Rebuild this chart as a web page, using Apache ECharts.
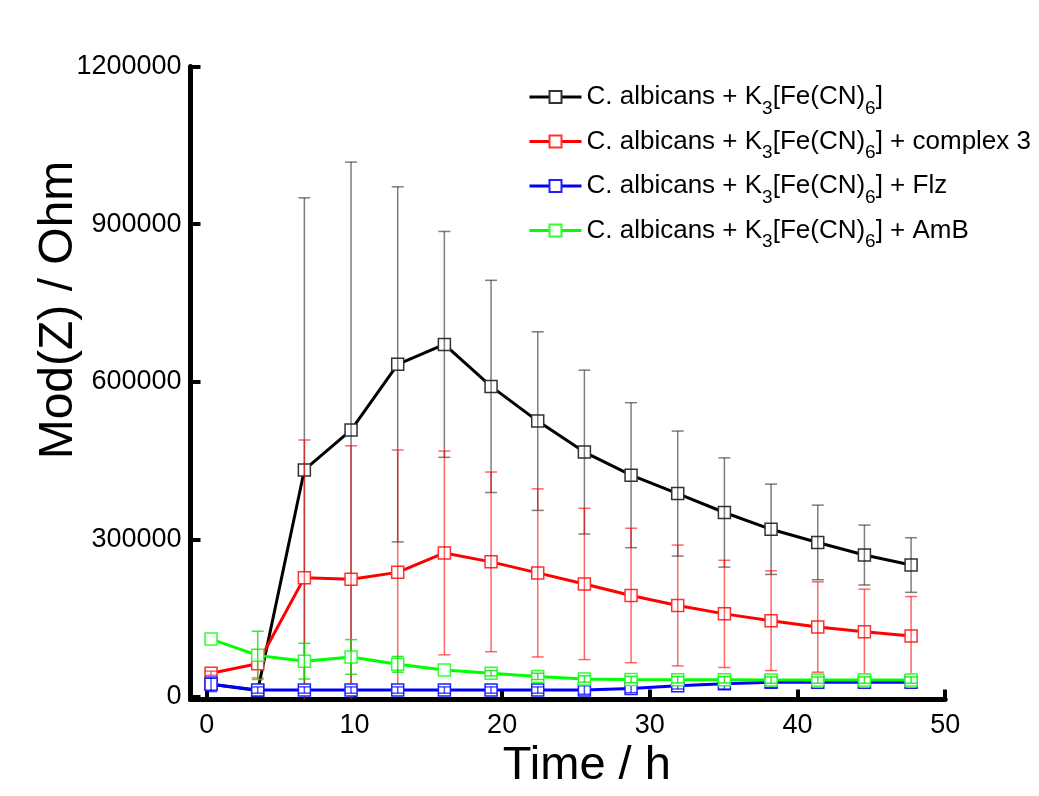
<!DOCTYPE html>
<html>
<head>
<meta charset="utf-8">
<script src="https://cdn.jsdelivr.net/npm/echarts@6/dist/echarts.min.js"></script>
<style>
html,body{margin:0;padding:0;background:#fff;}
#c{width:1039px;height:796px;}
</style>
</head>
<body>
<div id="c"></div>
<script>
// ---- data ----
var time = [0.29, 3.45, 6.61, 9.77, 12.93, 16.09, 19.25, 22.41, 25.57, 28.73, 31.89, 35.05, 38.21, 41.37, 44.53, 47.69];

var blackVals = [24000, 12000, 432000, 508000, 633000, 671000, 591000, 525000, 466000, 422000, 387000, 351000, 319000, 294000, 270000, 251000];
var blackErr  = [0, 0, 518000, 510000, 338000, 215000, 202000, 170000, 156000, 138000, 119000, 104000, 86000, 71000, 57000, 52000];

var redVals = [45000, 63000, 227000, 224000, 237000, 274000, 257000, 236000, 215000, 193000, 174000, 158000, 145000, 133000, 124000, 116000];
var redErr  = [4000, 27000, 262000, 254000, 233000, 194000, 171000, 160000, 144000, 128000, 115000, 102000, 95000, 86000, 81000, 75000];

var blueVals = [24000, 13000, 13000, 13000, 13000, 13000, 13000, 13000, 13000, 16000, 21000, 25000, 28000, 28000, 28000, 28000];
var blueErr  = [14000, 6000, 6000, 6000, 6000, 6000, 6000, 6000, 8000, 8000, 6000, 10000, 10000, 6000, 5000, 5000];

var greenVals = [110000, 79000, 68000, 76000, 62000, 51000, 45000, 39000, 34000, 33000, 32500, 32500, 32000, 32000, 32000, 32000];
var greenErr  = [0, 46000, 34000, 33000, 15000, 0, 5000, 6000, 6000, 6000, 6000, 6000, 6000, 6000, 6000, 6000];

var seriesNames = [
  'C. albicans + K3[Fe(CN)6]',
  'C. albicans + K3[Fe(CN)6] + complex 3',
  'C. albicans + K3[Fe(CN)6] + Flz',
  'C. albicans + K3[Fe(CN)6] + AmB'
];
var legendSuffix = ['', ' + complex 3', ' + Flz', ' + AmB'];
var xTicks = [0, 10, 20, 30, 40, 50];
var yTicks = [0, 300000, 600000, 900000, 1200000];

var FONT = 'Liberation Sans, Arial, Helvetica, sans-serif';

function pairs(vals) { return time.map(function (t, i) { return [t, vals[i]]; }); }

function lineSeries(name, vals, color, borderColor, z) {
  return {
    type: 'line', name: name, data: pairs(vals), z: z,
    symbol: 'rect', symbolSize: 12,
    lineStyle: { color: color, width: 3 },
    itemStyle: { color: '#fff', borderColor: borderColor, borderWidth: 1.5 },
    emphasis: { disabled: true }, silent: true
  };
}

function errSeries(vals, errs, color, z) {
  return {
    type: 'custom', z: z, silent: true,
    data: time.map(function (t, i) { return [t, vals[i], errs[i]]; }),
    encode: { x: 0, y: 1 },
    renderItem: function (params, api) {
      var t = api.value(0), v = api.value(1), e = api.value(2);
      if (!e) return null;
      var top = api.coord([t, v + e]);
      var bot = api.coord([t, v - e]);
      var cs = params.coordSys;
      var yMin = cs.y, yMax = cs.y + cs.height;
      var x = top[0];
      var y1 = Math.max(top[1], yMin), y2 = Math.min(bot[1], yMax);
      var st = { stroke: color, lineWidth: 1.5 };
      var ch = [{ type: 'line', shape: { x1: x, y1: y1, x2: x, y2: y2 }, style: st }];
      var hw = 6;
      if (top[1] >= yMin) ch.push({ type: 'line', shape: { x1: x - hw, y1: top[1], x2: x + hw, y2: top[1] }, style: st });
      if (bot[1] <= yMax) ch.push({ type: 'line', shape: { x1: x - hw, y1: bot[1], x2: x + hw, y2: bot[1] }, style: st });
      return { type: 'group', children: ch };
    }
  };
}

var chart = echarts.init(document.getElementById('c'), null, { renderer: 'canvas' });

var option = {
  backgroundColor: '#fff',
  animation: false,
  grid: { left: 190.5, right: 93.8, top: 66.5, bottom: 96.5, containLabel: false },
  legend: {
    orient: 'vertical', left: 523, top: 79, align: 'left',
    itemWidth: 52, itemHeight: 15, itemGap: 10.5,
    lineStyle: { width: 3 },
    data: seriesNames,
    formatter: function (name) {
      var i = seriesNames.indexOf(name);
      return '{t|C. albicans + K}{s|3}{t|[Fe(CN)}{s|6}{t|]' + legendSuffix[i] + '}';
    },
    textStyle: {
      color: '#000', fontFamily: FONT, fontSize: 26,
      rich: {
        t: { fontFamily: FONT, fontSize: 26, color: '#000', lineHeight: 42 },
        s: { fontFamily: FONT, fontSize: 19, color: '#000', lineHeight: 19, verticalAlign: 'bottom' }
      }
    }
  },
  xAxis: {
    type: 'value', min: -1.1, max: 50,
    name: 'Time / h', nameLocation: 'middle', nameGap: 43, nameMoveOverlap: false,
    nameTextStyle: { fontFamily: FONT, fontSize: 47, color: '#000', padding: [0, 0, 0, 38] },
    axisLine: { show: true, onZero: false, lineStyle: { color: '#000', width: 5 } },
    axisTick: { show: true, inside: true, length: 10, customValues: xTicks, lineStyle: { color: '#000', width: 4 } },
    axisLabel: { show: true, margin: 13, customValues: xTicks, fontFamily: FONT, fontSize: 27, color: '#000',
      formatter: function (v) { return String(v); } },
    splitLine: { show: false }
  },
  yAxis: {
    type: 'value', min: -5000, max: 1200000,
    name: 'Mod(Z) / Ohm', nameLocation: 'middle', nameRotate: 90, nameGap: 108, nameMoveOverlap: false,
    nameTextStyle: { fontFamily: FONT, fontSize: 48, color: '#000', padding: [0, 0, 0, 146] },
    axisLine: { show: true, onZero: false, lineStyle: { color: '#000', width: 5 } },
    axisTick: { show: true, inside: true, length: 10, customValues: yTicks, lineStyle: { color: '#000', width: 4 } },
    axisLabel: { show: true, margin: 9, customValues: yTicks, fontFamily: FONT, fontSize: 27, color: '#000',
      formatter: function (v) { return String(v); } },
    splitLine: { show: false }
  },
  series: [
    lineSeries(seriesNames[0], blackVals, '#000000', '#333333', 2),
    errSeries(blackVals, blackErr, 'rgba(40,40,40,0.6)', 3),
    lineSeries(seriesNames[1], redVals, '#ff0000', '#ff3030', 4),
    errSeries(redVals, redErr, 'rgba(255,0,0,0.6)', 5),
    lineSeries(seriesNames[2], blueVals, '#0000ff', '#2020ff', 6),
    errSeries(blueVals, blueErr, 'rgba(0,0,255,0.7)', 7),
    lineSeries(seriesNames[3], greenVals, '#00ff00', '#30ff30', 8),
    errSeries(greenVals, greenErr, 'rgba(0,230,0,0.8)', 9)
  ]
};
chart.setOption(option);
</script>
</body>
</html>
